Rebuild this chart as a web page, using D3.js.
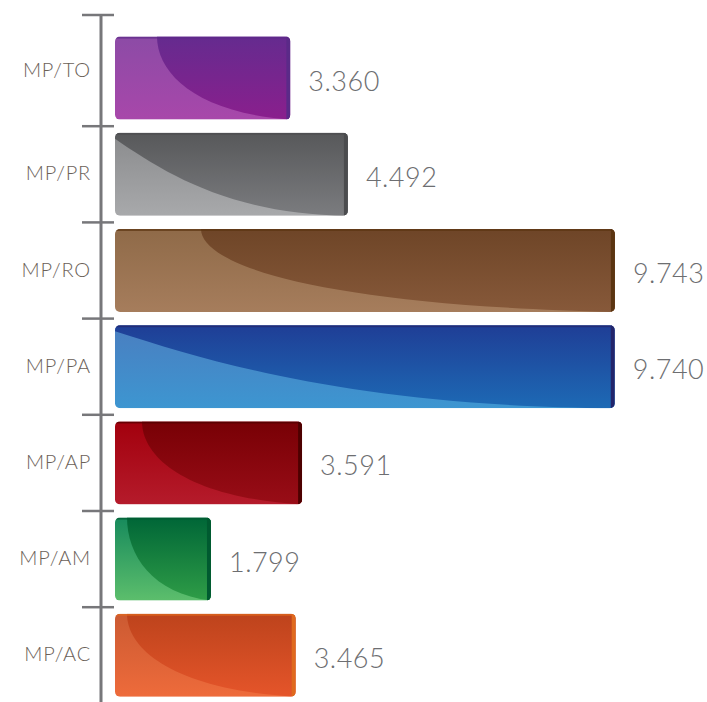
<!DOCTYPE html>
<html>
<head>
<meta charset="utf-8">
<script src="https://cdn.jsdelivr.net/npm/d3@7"></script>
<style>
html,body{margin:0;padding:0;background:#fff;}
svg{display:block;}
</style>
</head>
<body>
<svg id="chart" width="707" height="702"></svg>
<script>
// ---- data ----
const categories = ["MP/TO", "MP/PR", "MP/RO", "MP/PA", "MP/AP", "MP/AM", "MP/AC"];
const values = [3360, 4492, 9743, 9740, 3591, 1799, 3465];

// ---- style ----
// [darkTop, darkBottom, lightTop, lightBottom, edge]
const palettes = [
  ["#652b8f", "#8a1f8d", "#8c4ba6", "#a847aa", "#5b2a88"],
  ["#57585a", "#7b7c7f", "#8a8b8d", "#a8a9ab", "#4b4c4e"],
  ["#6e4527", "#87593a", "#8f6a48", "#a67d5c", "#5b3511"],
  ["#1f3e96", "#1d6ab5", "#4a7ec0", "#3d96d1", "#23256b"],
  ["#780005", "#990d17", "#a2000d", "#b51b2b", "#4d0000"],
  ["#006637", "#2f9d47", "#178a5c", "#5cbe6c", "#005a30"],
  ["#bd431c", "#e5552a", "#cb5a32", "#ee6b3b", "#df6a1e"]
];
const curveStart = [42, 0, 86, 0, 27, 12, 12];

const svg = d3.select("#chart");
const fmt = d3.formatLocale({decimal: ",", thousands: ".", grouping: [3], currency: ["R$", ""]}).format(",d");

const x = d3.scaleLinear().domain([0, 10000]).range([119.5, 628]);
const y = d3.scaleBand().domain(categories).range([30, 703.4]).paddingInner(0.137).paddingOuter(0.0685);

const defs = svg.append("defs");
const barLeft = x(0) - 4.5;

// axis
const axisX = 101;
const axisTop = 15;
const tickYs = [axisTop].concat(categories.slice(1).map(c => y(c) - y.step() * y.paddingInner() / 2));
svg.append("line").attr("x1", axisX).attr("x2", axisX).attr("y1", axisTop).attr("y2", 702)
  .attr("stroke", "#77777a").attr("stroke-width", 3);
svg.selectAll("line.tick").data(tickYs).join("line").attr("class", "tick")
  .attr("x1", 82).attr("x2", 114).attr("y1", d => d).attr("y2", d => d)
  .attr("stroke", "#77777a").attr("stroke-width", 2.5);

// category labels centered between ticks
const tickEnds = tickYs.slice(1).concat([y(categories[6]) + y.step() * (1 - y.paddingInner() / 2)]);
svg.selectAll("text.cat").data(categories).join("text").attr("class", "cat")
  .attr("x", 91)
  .attr("y", (d, i) => (tickYs[i] + tickEnds[i]) / 2 - 2)
  .attr("text-anchor", "end").attr("dominant-baseline", "central")
  .attr("font-family", "Lato, 'Open Sans', sans-serif").attr("font-weight", 300)
  .attr("font-size", 20).attr("letter-spacing", 0.8)
  .attr("fill", "#6b6158").text(d => d);

// bars
categories.forEach((c, i) => {
  const p = palettes[i];
  const x0 = barLeft, x1 = x(values[i]);
  const top = y(c), h = y.bandwidth(), bot = top + h, w = x1 - x0;
  const id = "b" + i;
  const gd = defs.append("linearGradient").attr("id", id + "d").attr("x1", 0).attr("y1", 0).attr("x2", 0).attr("y2", 1);
  gd.append("stop").attr("offset", 0).attr("stop-color", p[0]);
  gd.append("stop").attr("offset", 1).attr("stop-color", p[1]);
  const gl = defs.append("linearGradient").attr("id", id + "l").attr("x1", 0).attr("y1", 0).attr("x2", 0).attr("y2", 1);
  gl.append("stop").attr("offset", 0).attr("stop-color", p[2]);
  gl.append("stop").attr("offset", 1).attr("stop-color", p[3]);
  defs.append("clipPath").attr("id", id + "c").append("rect")
    .attr("x", x0).attr("y", top).attr("width", w).attr("height", h).attr("rx", 5);

  const g = svg.append("g").attr("clip-path", `url(#${id}c)`);
  g.append("rect").attr("x", x0).attr("y", top).attr("width", w).attr("height", h).attr("fill", `url(#${id}l)`);
  const s = curveStart[i];
  let path;
  if (s > 0) {
    const sx = x0 + s;
    path = `M${sx},${top} C${sx},${top + 0.45 * h} ${sx + 0.3 * (x1 - sx)},${bot - 0.08 * h} ${x1},${bot} L${x1},${top} Z`;
  } else {
    path = `M${x0},${top + 6} C${x0 + 0.22 * w},${top + 0.5 * h} ${x0 + 0.5 * w},${bot - 0.02 * h} ${x1},${bot} L${x1},${top} L${x0},${top} Z`;
  }
  g.append("path").attr("d", path).attr("fill", `url(#${id}d)`);
  g.append("rect").attr("x", x1 - 4).attr("y", top).attr("width", 4).attr("height", h).attr("fill", p[4]);
  g.append("rect").attr("x", x0).attr("y", top).attr("width", w).attr("height", 2).attr("fill", p[4]).attr("opacity", 0.7);
});

// value labels
svg.selectAll("text.val").data(categories).join("text").attr("class", "val")
  .attr("x", (d, i) => x(values[i]) + 18)
  .attr("y", (d, i) => y(d) + y.bandwidth() / 2 + 2)
  .attr("dominant-baseline", "central")
  .attr("font-family", "Lato, 'Open Sans', sans-serif").attr("font-weight", 300)
  .attr("font-size", 27).attr("letter-spacing", 0.5)
  .attr("fill", "#6d6e71").text((d, i) => fmt(values[i]));
</script>
</body>
</html>
